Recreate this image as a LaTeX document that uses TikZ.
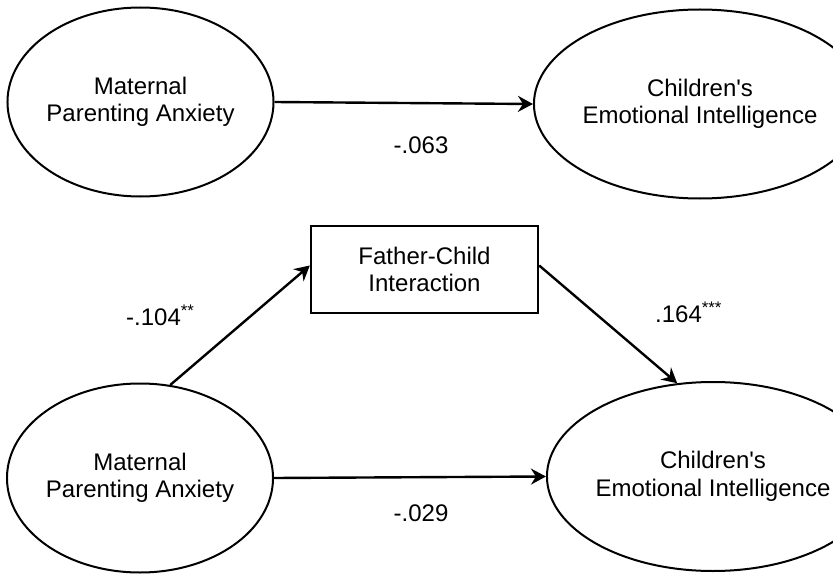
\documentclass[tikz,border=0pt]{standalone}
\usepackage{fontspec}
\setmainfont{Liberation Sans}
\usetikzlibrary{positioning,arrows.meta,shapes.geometric}

\begin{document}
\begin{tikzpicture}[
  x=1pt,y=-1pt,
  latent/.style={ellipse,draw,line width=2pt,minimum width=255pt,minimum height=189pt,inner sep=0pt,align=center,font=\fontsize{24pt}{27.5pt}\selectfont},
  observed/.style={rectangle,draw,line width=2.4pt,minimum width=227pt,minimum height=87pt,inner sep=0pt,align=center,font=\fontsize{24pt}{27.5pt}\selectfont},
  arr/.style={-{Stealth[length=15pt,width=16pt,inset=5pt]},line width=2.4pt},
  coef/.style={font=\fontsize{24pt}{27.5pt}\selectfont,inner sep=0pt},
]
\useasboundingbox (0,0) rectangle (833,575);

% Total effect
\node[latent] (MPA1) at (140.5,102) {Maternal\\Parenting Anxiety};
\node[latent] (CEI1) at (700,104) {Children\textquotesingle s\\Emotional Intelligence};
\draw[arr] (MPA1.east) -- (CEI1.west);
\node[coef] (c1) at (421,145) {-.063};

% Mediation model
\node[observed] (FCI) at (424.5,269.5) {Father-Child\\Interaction};
\node[latent] (MPA2) at (140,478) {Maternal\\Parenting Anxiety};
\node[latent] (CEI2) at (713,476.5) {Children\textquotesingle s\\Emotional Intelligence};

\draw[arr] (MPA2.72) -- ([yshift=4pt]FCI.west);
\draw[arr] ([yshift=4pt]FCI.east) -- (CEI2.111);
\draw[arr] (MPA2.east) -- (CEI2.west);

% Path coefficients
\node[coef,anchor=west] (c2) at (126,315) {-.104\textsuperscript{**}};
\node[coef,anchor=west] (c3) at (655,312) {.164\textsuperscript{***}};
\node[coef] (c4) at (421,513) {-.029};

\end{tikzpicture}
\end{document}
